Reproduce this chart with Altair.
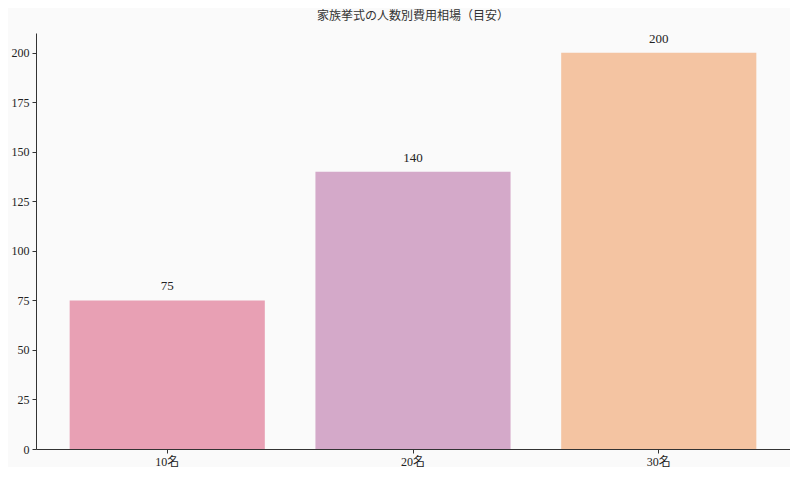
import altair as alt
import pandas as pd

categories = ["10名", "20名", "30名"]
values = [75, 140, 200]
colors = ["#e8a0b4", "#d4a9c9", "#f4c4a2"]

df = pd.DataFrame({"cat": categories, "val": values, "color": colors})

FONT = "Liberation Serif, Noto Sans CJK JP"

base = alt.Chart(df).encode(
    x=alt.X("cat:N", sort=categories, title=None,
            scale=alt.Scale(paddingInner=0.206, paddingOuter=0.137),
            axis=alt.Axis(labelAngle=0, labelFontSize=12, labelColor="#222",
                          domainColor="#333", tickColor="#333", tickSize=4,
                          labelPadding=3, labelFont=FONT)),
    y=alt.Y("val:Q", title=None,
            scale=alt.Scale(domain=[0, 210], nice=False),
            axis=alt.Axis(values=[0, 25, 50, 75, 100, 125, 150, 175, 200],
                          grid=False, labelFontSize=12, labelColor="#222",
                          domainColor="#333", tickColor="#333", tickSize=4,
                          labelPadding=3, labelFont=FONT)),
)

bars = base.mark_bar().encode(color=alt.Color("color:N", scale=None))
text = base.mark_text(dy=-14, fontSize=13, font=FONT, color="#222").encode(text="val:Q")

chart = (bars + text).properties(
    width=754, height=416,
    title=alt.TitleParams("家族挙式の人数別費用相場（目安）", font=FONT, fontSize=12,
                          fontWeight="normal", color="#333", offset=10),
    background="#fafafa",
    padding={"left": 3, "top": 1, "right": 0, "bottom": 0},
).configure_view(stroke=None)

chart.save("out.html", embed_options={"renderer": "svg", "actions": False})
